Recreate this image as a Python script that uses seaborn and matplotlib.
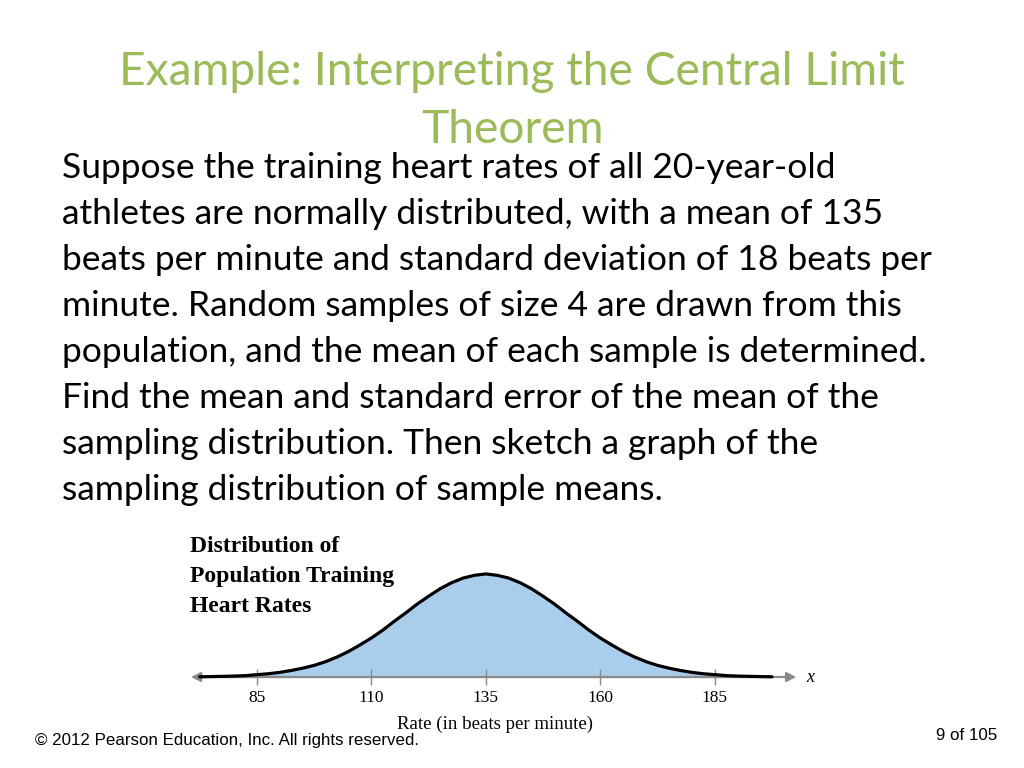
import numpy as np
import pandas as pd
import matplotlib
matplotlib.use('Agg')
import matplotlib.pyplot as plt
import seaborn as sns

# rates (bpm) and curve heights (density per bpm)
rate = [72.5, 75, 77.5, 80, 82.5, 85, 87.5, 90, 92.5, 95, 97.5, 100, 102.5, 105,
        107.5, 110, 112.5, 115, 117.5, 120, 122.5, 125, 127.5, 130, 132.5, 135,
        137.5, 140, 142.5, 145, 147.5, 150, 152.5, 155, 157.5, 160, 162.5,
        165, 167.5, 170, 172.5, 175, 177.5, 180, 182.5, 185, 187.5, 190,
        192.5, 195, 197.5]
density = [0.00005, 0.00009, 0.00014, 0.0002, 0.0003, 0.0005, 0.0007, 0.0010,
           0.0014, 0.0019, 0.0025, 0.0033, 0.0043, 0.0055, 0.0069, 0.0084,
           0.0101, 0.0120, 0.0138, 0.0157, 0.0174, 0.0190, 0.0203, 0.0213,
           0.0219, 0.0222,
           0.0219, 0.0213, 0.0203, 0.0190, 0.0174, 0.0157, 0.0138, 0.0120,
           0.0101, 0.0084, 0.0069, 0.0055, 0.0043, 0.0033, 0.0025, 0.0019,
           0.0014, 0.0010, 0.0007, 0.0005, 0.0003, 0.0002, 0.00014, 0.00009,
           0.00005]
tick_vals = [85, 110, 135, 160, 185]

title_lines = ["Example: Interpreting the Central Limit", "Theorem"]
body_lines = [
    "Suppose the training heart rates of all 20-year-old",
    "athletes are normally distributed, with a mean of 135",
    "beats per minute and standard deviation of 18 beats per",
    "minute. Random samples of size 4 are drawn from this",
    "population, and the mean of each sample is determined.",
    "Find the mean and standard error of the mean of the",
    "sampling distribution. Then sketch a graph of the",
    "sampling distribution of sample means.",
]
chart_title = ["Distribution of", "Population Training", "Heart Rates"]

df = pd.DataFrame({'rate': rate, 'density': density})

sns.set_theme(style='white')
plt.rcParams['font.family'] = ['Lato', 'DejaVu Sans']
plt.rcParams['text.color'] = 'black'
plt.rcParams['xtick.labelcolor'] = 'black'
plt.rcParams['axes.labelcolor'] = 'black'

W, H = 1024, 768
fig = plt.figure(figsize=(W / 100, H / 100), dpi=100)
fig.patch.set_facecolor('white')

def fx(px):
    return px / W

def fy(py):
    return 1 - py / H

# slide title
fig.text(fx(512), fy(72), title_lines[0], ha='center', va='center',
         fontsize=33.2, color='#9BBB59')
fig.text(fx(512), fy(130), title_lines[1], ha='center', va='center',
         fontsize=33.2, color='#9BBB59')

# body text
for i, line in enumerate(body_lines):
    fig.text(fx(62), fy(168 + i * 46), line, ha='left', va='center',
             fontsize=25.5, color='black')

# chart area
ax = fig.add_axes([fx(185), fy(690), fx(620), (690 - 560) / H])
ax.set_facecolor('none')
sns.lineplot(data=df, x='rate', y='density', ax=ax, color='black', lw=2.3)
ax.fill_between(df['rate'], 0, df['density'], color='#A9CEEC', zorder=0)

ax.set_xlim(69.3, 204.7)
ax.set_ylim(-0.0028, 0.0252)
for s in ax.spines.values():
    s.set_visible(False)
ax.spines['bottom'].set_position(('data', 0))
ax.set_yticks([])
ax.set_xticks(tick_vals)
ax.set_xticklabels([str(t) for t in tick_vals], family='Liberation Serif',
                   fontsize=12.5, color='black')
ax.tick_params(axis='x', direction='inout', length=12, width=1,
               color='#8a8a8a', pad=3, bottom=True)
ax.set_xlabel('Rate (in beats per minute)', family='Liberation Serif',
              fontsize=13.6, labelpad=7, color='black')
ax.set_ylabel('')
ax.annotate('', xy=(202.8, 0), xytext=(70.6, 0),
            arrowprops=dict(arrowstyle='<|-|>', color='#8a8a8a', lw=1.6,
                            mutation_scale=14, shrinkA=0, shrinkB=0),
            zorder=1)
ax.text(205.0, 0, 'x', family='Liberation Serif', style='italic',
        fontsize=13, ha='left', va='center', clip_on=False, color='black')

for i, line in enumerate(chart_title):
    fig.text(fx(190), fy(547 + i * 29.5), line, family='Liberation Serif',
             fontweight='bold', fontsize=17, ha='left', va='center',
             color='black')

# footer
fig.text(fx(35), fy(740), '\u00a9 2012 Pearson Education, Inc. All rights reserved.',
         family=['Liberation Sans Narrow', 'Liberation Sans'], fontsize=12.2,
         ha='left', va='center', color='black')
fig.text(fx(997), fy(735), '9 of 105',
         family=['Liberation Sans Narrow', 'Liberation Sans'], fontsize=12.2,
         ha='right', va='center', color='black')

fig.savefig('out.png', dpi=100)
